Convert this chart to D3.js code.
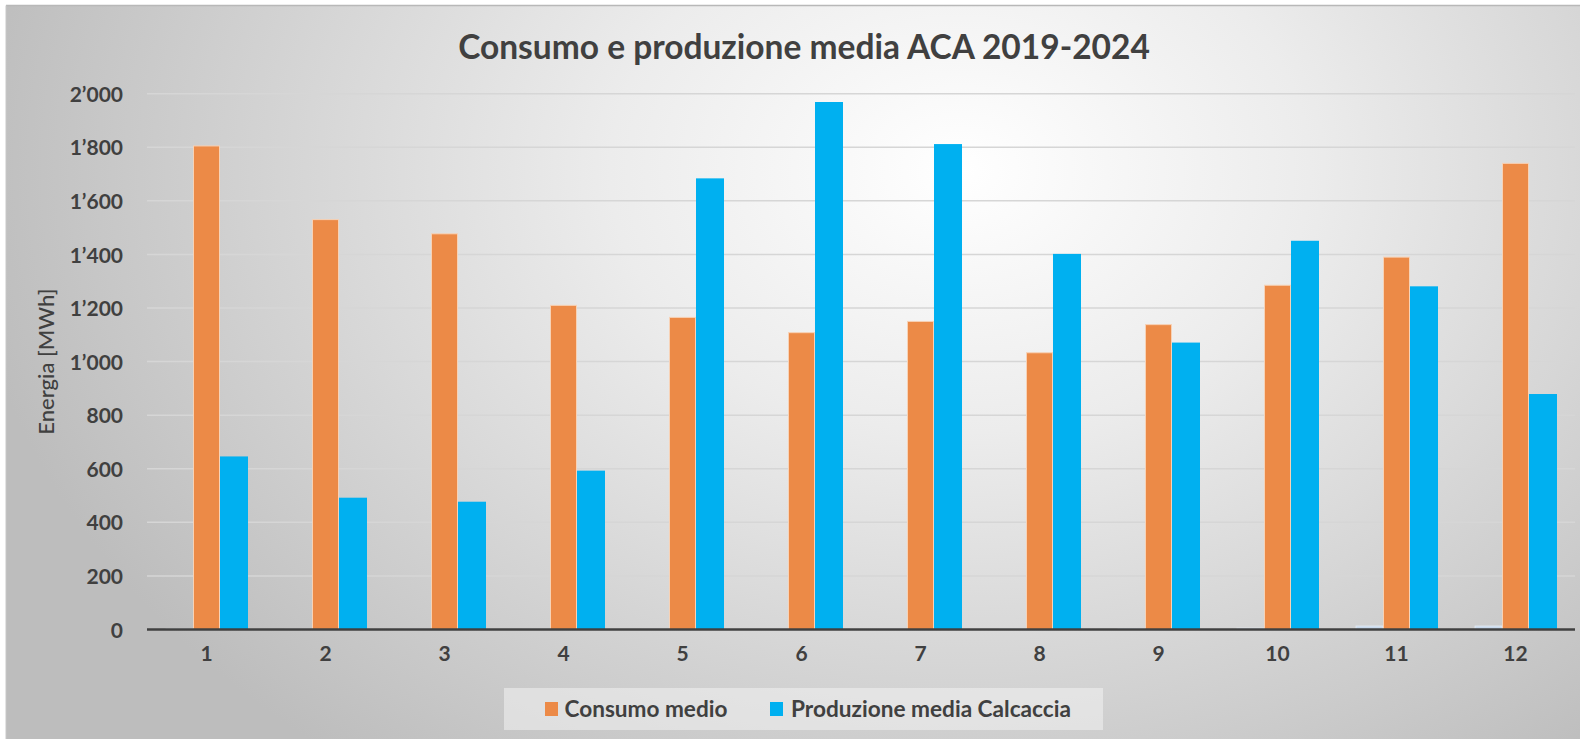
<!DOCTYPE html>
<html>
<head>
<meta charset="utf-8">
<script src="https://cdn.jsdelivr.net/npm/d3@7"></script>
<style>
  html, body { margin: 0; padding: 0; background: #ffffff; }
  svg { display: block; }
</style>
</head>
<body>
<svg id="chart" width="1580" height="739"></svg>
<script>
// ---- data ----
const months = ["1","2","3","4","5","6","7","8","9","10","11","12"];
const consumoMedio = [1805, 1530, 1477, 1210, 1165, 1108, 1150, 1033, 1138, 1285, 1390, 1740];
const produzioneCalcaccia = [646, 492, 477, 593, 1684, 1969, 1812, 1402, 1071, 1451, 1281, 879];
const produzioneAltro = [2, 1, 1, 1, 1, 1, 1, 2, 4, 5, 13, 13];
const yTicks = [0, 200, 400, 600, 800, 1000, 1200, 1400, 1600, 1800, 2000];
const seriesNames = ["Consumo medio", "Produzione media Calcaccia"];
const titleText = "Consumo e produzione media ACA 2019-2024";
const yLabelText = "Energia [MWh]";

const W = 1580, H = 739;
const svg = d3.select("#chart");
const FONT = "Lato, 'Open Sans', 'DejaVu Sans', sans-serif";
const TXT = "#404040";

// background gradient
const defs = svg.append("defs");
const rg = defs.append("radialGradient").attr("id", "bg")
  .attr("gradientUnits", "userSpaceOnUse")
  .attr("cx", 960).attr("cy", 170).attr("r", 1000)
  .attr("gradientTransform", "translate(960,170) scale(1,0.75) translate(-960,-170)");
rg.append("stop").attr("offset", "0").attr("stop-color", "#ffffff");
rg.append("stop").attr("offset", "0.35").attr("stop-color", "#ececec");
rg.append("stop").attr("offset", "1").attr("stop-color", "#bdbdbd");

svg.append("rect").attr("x", 6).attr("y", 6).attr("width", W).attr("height", H)
  .attr("fill", "url(#bg)");
svg.append("line").attr("x1", 6).attr("x2", W).attr("y1", 5.5).attr("y2", 5.5)
  .attr("stroke", "#b8b8b8").attr("stroke-width", 1.5);
svg.append("line").attr("x1", 6).attr("x2", 6).attr("y1", 5.5).attr("y2", H)
  .attr("stroke", "#c8c8c8").attr("stroke-width", 1);

// scales
const x = d3.scaleBand().domain(months).range([147, 1575]).paddingInner(0).paddingOuter(0);
const bw = 27;
const sub = d3.scaleBand().domain(["altro", "consumo", "prod"])
  .range([x.bandwidth() / 2 - 1.5 * bw, x.bandwidth() / 2 + 1.5 * bw]);
const y = d3.scaleLinear().domain([0, 2000]).range([629.5, 93.7]);

const fmt = v => d3.format(",")(v).replace(/,/g, "\u2019");

// gridlines
svg.append("g")
  .selectAll("line").data(yTicks.filter(t => t > 0)).join("line")
  .attr("x1", 147).attr("x2", 1575)
  .attr("y1", d => y(d)).attr("y2", d => y(d))
  .attr("stroke", "#d6d6d6").attr("stroke-width", 1.5);

// y axis labels
const yAxis = d3.axisLeft(y).tickValues(yTicks).tickFormat(fmt).tickSize(0).tickPadding(0);
const gy = svg.append("g").attr("transform", "translate(123,0)").call(yAxis);
gy.select(".domain").remove();
gy.selectAll("text").attr("font-family", FONT).attr("font-weight", "bold")
  .attr("font-size", 21).attr("fill", TXT).attr("dy", "0.36em");

// bars
const groups = svg.append("g").selectAll("g").data(months).join("g")
  .attr("transform", d => `translate(${x(d)},0)`);

groups.append("rect")
  .attr("x", sub("altro")).attr("width", sub.bandwidth())
  .attr("y", (d, i) => y(produzioneAltro[i]))
  .attr("height", (d, i) => y(0) - y(produzioneAltro[i]))
  .attr("fill", "#c9d9ec").attr("stroke", "#e4ecf6").attr("stroke-width", 0.8);

groups.append("rect")
  .attr("x", sub("consumo") + 0.5).attr("width", sub.bandwidth() - 1)
  .attr("y", (d, i) => y(consumoMedio[i]))
  .attr("height", (d, i) => y(0) - y(consumoMedio[i]))
  .attr("fill", "#ec8a47").attr("stroke", "#f7d2b6").attr("stroke-width", 1);

groups.append("rect")
  .attr("x", sub("prod")).attr("width", sub.bandwidth() + 1)
  .attr("y", (d, i) => y(produzioneCalcaccia[i]))
  .attr("height", (d, i) => y(0) - y(produzioneCalcaccia[i]))
  .attr("fill", "#00b0f0");

// zero axis line
svg.append("line").attr("x1", 147).attr("x2", 1575)
  .attr("y1", y(0)).attr("y2", y(0))
  .attr("stroke", "#404040").attr("stroke-width", 2.6);

// x axis labels
const xAxis = d3.axisBottom(x).tickSize(0).tickPadding(0);
const gx = svg.append("g").attr("transform", `translate(0,${y(0)})`).call(xAxis);
gx.select(".domain").remove();
gx.selectAll("text").attr("font-family", FONT).attr("font-weight", "bold")
  .attr("font-size", 21).attr("fill", TXT).attr("dy", "1.5em");

// title
const title = svg.append("text").attr("x", 804).attr("y", 59)
  .attr("text-anchor", "middle").attr("font-family", FONT).attr("font-weight", "bold")
  .attr("font-size", 28).attr("fill", TXT).text(titleText);
{
  const w = title.node().getComputedTextLength();
  title.attr("font-size", 28 * 692 / w);
}

// y label
svg.append("text")
  .attr("transform", `translate(54,${(y(0) + y(2000)) / 2}) rotate(-90)`)
  .attr("text-anchor", "middle").attr("font-family", FONT).attr("font-weight", 500)
  .attr("font-size", 22).attr("fill", TXT).text(yLabelText);

// legend
const lg = svg.append("g");
lg.append("rect").attr("x", 504).attr("y", 688).attr("width", 599).attr("height", 42)
  .attr("fill", "#f2f2f2").attr("fill-opacity", 0.55);
const legendItems = [
  { name: seriesNames[0], color: "#ec8a47", sx: 545, tx: 564.5, tw: 163 },
  { name: seriesNames[1], color: "#00b0f0", sx: 770, tx: 791, tw: 280 }
];
legendItems.forEach(it => {
  lg.append("rect").attr("x", it.sx).attr("y", 702).attr("width", 13).attr("height", 14)
    .attr("fill", it.color);
  const t = lg.append("text").attr("x", it.tx).attr("y", 717)
    .attr("font-family", FONT).attr("font-weight", "bold").attr("font-size", 21)
    .attr("fill", TXT).text(it.name);
  const w = t.node().getComputedTextLength();
  t.attr("font-size", 21 * it.tw / w);
});
</script>
</body>
</html>
